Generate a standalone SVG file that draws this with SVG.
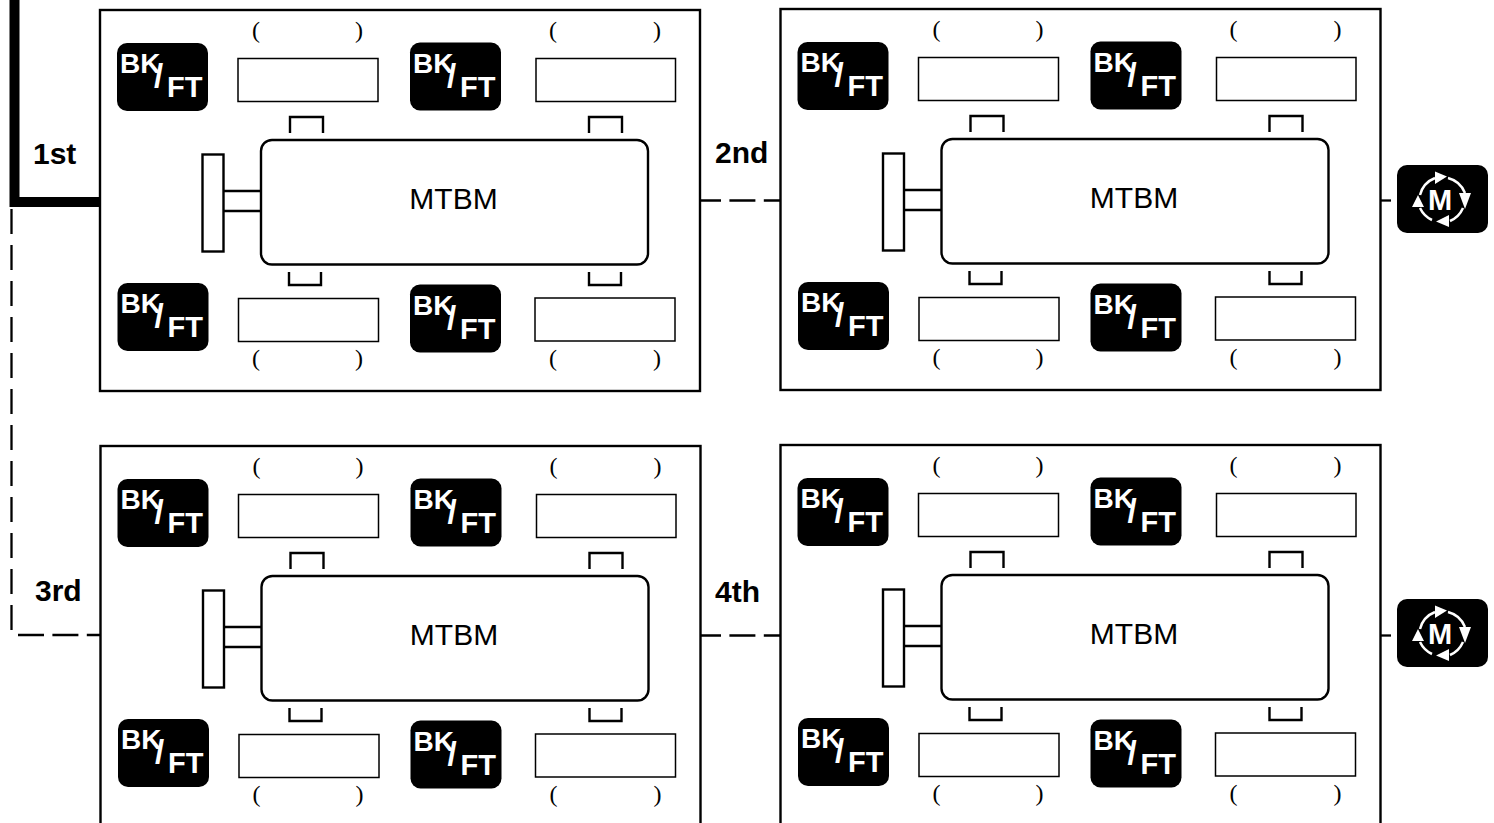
<svg xmlns="http://www.w3.org/2000/svg" width="1494" height="823" viewBox="0 0 1494 823">
<style>
text{font-family:"Liberation Sans",Arial,sans-serif}
.frame{fill:#fff;stroke:#000;stroke-width:2.4}
.box{fill:#fff;stroke:#000;stroke-width:1.5}
.ln{fill:none;stroke:#000;stroke-width:2.4}
.blk{fill:#000}
.p{font-family:"Liberation Serif","Times New Roman",serif;font-size:24px;fill:#000}
.m{font-size:30px;fill:#000;text-anchor:middle}
.b{font-size:28px;font-weight:700;fill:#fff}
.s{font-size:33px;font-weight:700;fill:#fff}
.f{font-size:29px;font-weight:700;fill:#fff}
.o{font-size:30px;font-weight:700;fill:#000}
.dash{fill:none;stroke:#000;stroke-width:2.3}
.arc{fill:none;stroke:#fff;stroke-width:2.5}
.tri{fill:#fff}
</style>
<defs>
<g id="bk"><rect class="blk" width="91" height="68" rx="10"/><text class="b" x="3" y="30">BK</text><text class="s" x="37" y="44">/</text><text class="f" x="50" y="54">FT</text></g>
<g id="mi"><rect class="blk" width="91" height="68" rx="10"/>
<path class="arc" d="M23 43A25 25 0 0 0 35 55M23 30A25 25 0 0 1 38 13M51 13A25 25 0 0 1 68 28M66 43A25 25 0 0 1 53 56"/>
<path class="tri" d="M38 6.500L50 11.500L38 19ZM62 28L74 28L68 44ZM52 50L52 62L39 56.500ZM15 42L27 42L21 30Z"/>
<text x="43" y="45" font-size="29" font-weight="700" fill="#fff" text-anchor="middle">M</text></g>
</defs>

<g id="connectors">
<path d="M14.500 0V202H100" fill="none" stroke="#000" stroke-width="10"/>
<path class="dash" d="M11.500 209V632" stroke-dasharray="25 11"/>
<path class="dash" d="M18 635H100" stroke-dasharray="26 8.400"/>
<path class="dash" d="M700 200.500H781" stroke-dasharray="21 8.400 26 8.400 26"/>
<path class="dash" d="M700 635.500H781" stroke-dasharray="21 8.400 26 8.400 26"/>
<path class="dash" d="M1381 200.500H1391"/>
<path class="dash" d="M1381 635.500H1391"/>
</g>

<g id="panel-1" transform="translate(0 0)">
<rect class="frame" x="100" y="10" width="600" height="381"/>
<g id="panel-1-motor"><path class="ln" d="M290 133V117H323V133M589 133V117H622V133M289 272V285H321V272M589 272V285H621V272M223 191H261M223 211H261"/><rect class="frame" x="202.500" y="154.500" width="21" height="97"/><rect class="frame" x="261" y="140" width="387" height="124.500" rx="11"/><text class="m" x="453.500" y="209">MTBM</text></g>
<g id="panel-1-tl"><use href="#bk" x="117" y="43"/><rect class="box" x="238" y="58.500" width="140" height="43"/><text class="p" x="252" y="38">(</text><text class="p" x="355" y="38">)</text></g>
<g id="panel-1-tr"><use href="#bk" x="410" y="42.500"/><rect class="box" x="536" y="58.500" width="139.500" height="43"/><text class="p" x="549" y="38">(</text><text class="p" x="653" y="38">)</text></g>
<g id="panel-1-bl"><use href="#bk" x="117.500" y="283"/><rect class="box" x="238.500" y="298.500" width="140" height="43"/><text class="p" x="252" y="366">(</text><text class="p" x="355" y="366">)</text></g>
<g id="panel-1-br"><use href="#bk" x="410" y="284.500"/><rect class="box" x="535" y="298" width="140" height="43"/><text class="p" x="549" y="366">(</text><text class="p" x="653" y="366">)</text></g>
</g>

<g id="panel-2" transform="translate(680.500 -1)">
<rect class="frame" x="100" y="10" width="600" height="381"/>
<g id="panel-2-motor"><path class="ln" d="M290 133V117H323V133M589 133V117H622V133M289 272V285H321V272M589 272V285H621V272M223 191H261M223 211H261"/><rect class="frame" x="202.500" y="154.500" width="21" height="97"/><rect class="frame" x="261" y="140" width="387" height="124.500" rx="11"/><text class="m" x="453.500" y="209">MTBM</text></g>
<g id="panel-2-tl"><use href="#bk" x="117" y="43"/><rect class="box" x="238" y="58.500" width="140" height="43"/><text class="p" x="252" y="38">(</text><text class="p" x="355" y="38">)</text></g>
<g id="panel-2-tr"><use href="#bk" x="410" y="42.500"/><rect class="box" x="536" y="58.500" width="139.500" height="43"/><text class="p" x="549" y="38">(</text><text class="p" x="653" y="38">)</text></g>
<g id="panel-2-bl"><use href="#bk" x="117.500" y="283"/><rect class="box" x="238.500" y="298.500" width="140" height="43"/><text class="p" x="252" y="366">(</text><text class="p" x="355" y="366">)</text></g>
<g id="panel-2-br"><use href="#bk" x="410" y="284.500"/><rect class="box" x="535" y="298" width="140" height="43"/><text class="p" x="549" y="366">(</text><text class="p" x="653" y="366">)</text></g>
</g>

<g id="panel-3" transform="translate(0.500 436)">
<rect class="frame" x="100" y="10" width="600" height="381"/>
<g id="panel-3-motor"><path class="ln" d="M290 133V117H323V133M589 133V117H622V133M289 272V285H321V272M589 272V285H621V272M223 191H261M223 211H261"/><rect class="frame" x="202.500" y="154.500" width="21" height="97"/><rect class="frame" x="261" y="140" width="387" height="124.500" rx="11"/><text class="m" x="453.500" y="209">MTBM</text></g>
<g id="panel-3-tl"><use href="#bk" x="117" y="43"/><rect class="box" x="238" y="58.500" width="140" height="43"/><text class="p" x="252" y="38">(</text><text class="p" x="355" y="38">)</text></g>
<g id="panel-3-tr"><use href="#bk" x="410" y="42.500"/><rect class="box" x="536" y="58.500" width="139.500" height="43"/><text class="p" x="549" y="38">(</text><text class="p" x="653" y="38">)</text></g>
<g id="panel-3-bl"><use href="#bk" x="117.500" y="283"/><rect class="box" x="238.500" y="298.500" width="140" height="43"/><text class="p" x="252" y="366">(</text><text class="p" x="355" y="366">)</text></g>
<g id="panel-3-br"><use href="#bk" x="410" y="284.500"/><rect class="box" x="535" y="298" width="140" height="43"/><text class="p" x="549" y="366">(</text><text class="p" x="653" y="366">)</text></g>
</g>

<g id="panel-4" transform="translate(680.500 435)">
<rect class="frame" x="100" y="10" width="600" height="381"/>
<g id="panel-4-motor"><path class="ln" d="M290 133V117H323V133M589 133V117H622V133M289 272V285H321V272M589 272V285H621V272M223 191H261M223 211H261"/><rect class="frame" x="202.500" y="154.500" width="21" height="97"/><rect class="frame" x="261" y="140" width="387" height="124.500" rx="11"/><text class="m" x="453.500" y="209">MTBM</text></g>
<g id="panel-4-tl"><use href="#bk" x="117" y="43"/><rect class="box" x="238" y="58.500" width="140" height="43"/><text class="p" x="252" y="38">(</text><text class="p" x="355" y="38">)</text></g>
<g id="panel-4-tr"><use href="#bk" x="410" y="42.500"/><rect class="box" x="536" y="58.500" width="139.500" height="43"/><text class="p" x="549" y="38">(</text><text class="p" x="653" y="38">)</text></g>
<g id="panel-4-bl"><use href="#bk" x="117.500" y="283"/><rect class="box" x="238.500" y="298.500" width="140" height="43"/><text class="p" x="252" y="366">(</text><text class="p" x="355" y="366">)</text></g>
<g id="panel-4-br"><use href="#bk" x="410" y="284.500"/><rect class="box" x="535" y="298" width="140" height="43"/><text class="p" x="549" y="366">(</text><text class="p" x="653" y="366">)</text></g>
</g>

<g id="labels">
<text class="o" x="33" y="163.500">1st</text>
<text class="o" x="715" y="162.500">2nd</text>
<text class="o" x="35" y="600.500">3rd</text>
<text class="o" x="715" y="601.500">4th</text>
</g>
<g id="mode-1"><use href="#mi" x="1397" y="165"/></g>
<g id="mode-2"><use href="#mi" x="1397" y="599"/></g>
</svg>
